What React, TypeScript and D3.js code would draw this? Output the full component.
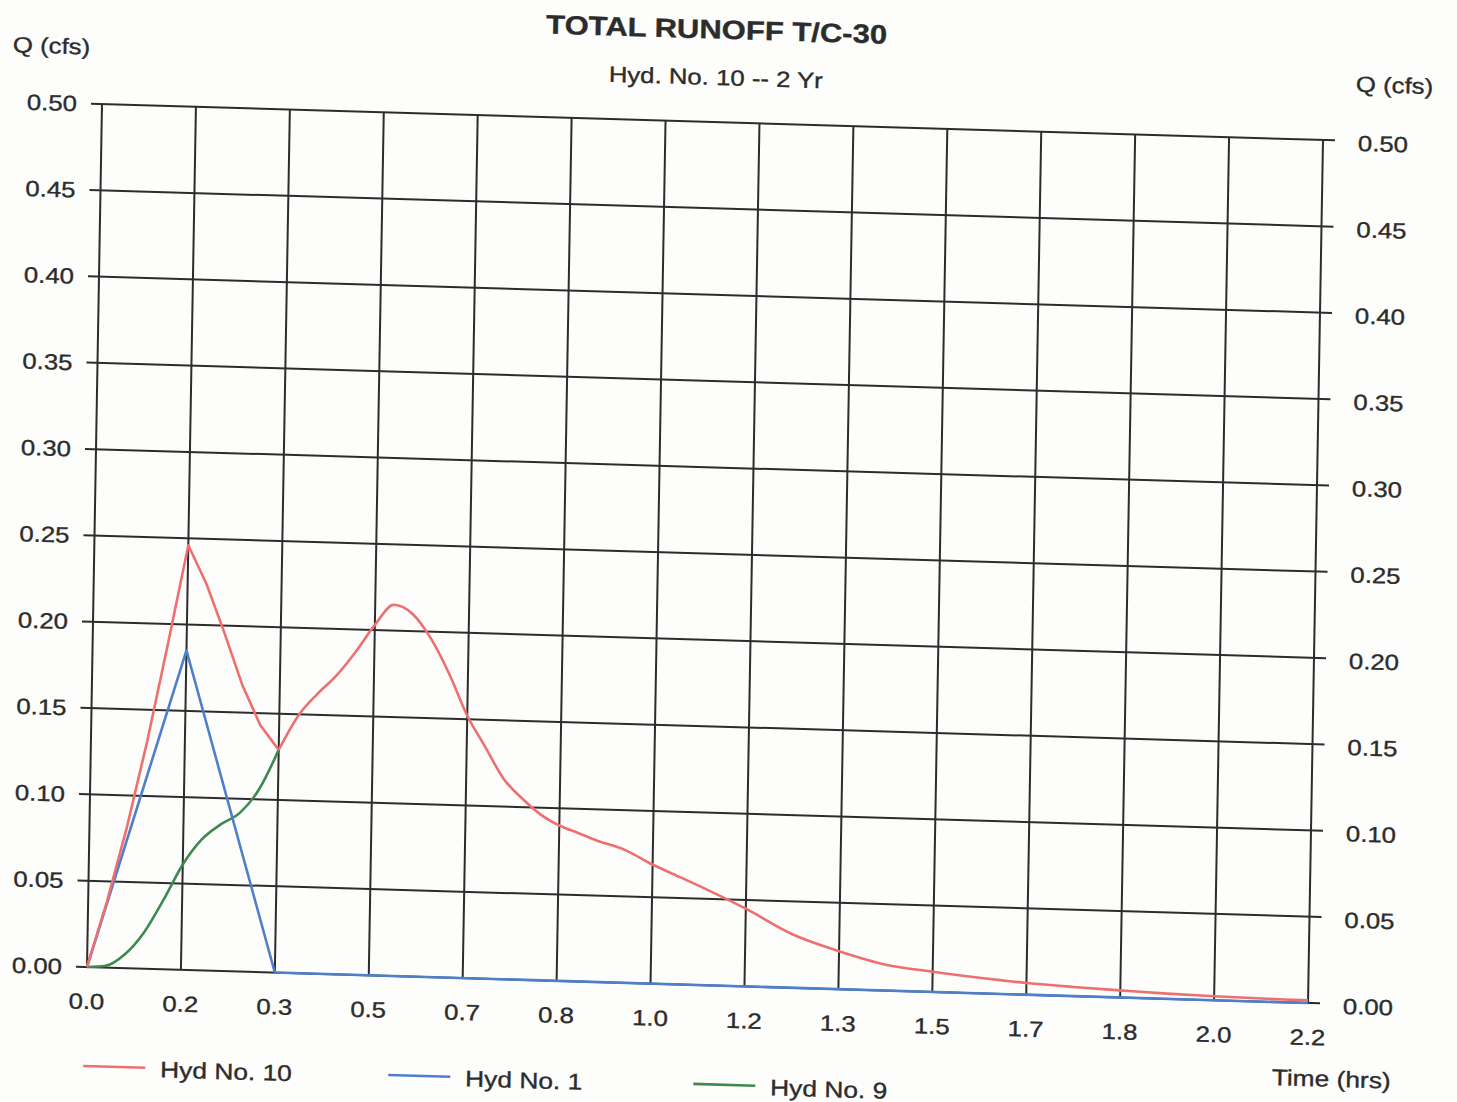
// @ts-nocheck
import React, { useEffect, useRef } from "react";
import * as d3 from "d3";

// Hyd No. 10 (total runoff)
const hyd10Time = [
  0, 0.0333, 0.0667, 0.1, 0.1333, 0.1667, 0.2, 0.2333, 0.2667, 0.3, 0.3333,
  0.3667, 0.4, 0.4333, 0.4667, 0.5, 0.5333, 0.5667, 0.6, 0.6333, 0.6667, 0.7,
  0.7333, 0.7667, 0.8, 0.8333, 0.8667, 0.9, 0.95, 1.0, 1.05, 1.1, 1.1667, 1.25,
  1.3333, 1.4167, 1.5, 1.5833, 1.6667, 1.75, 1.8333, 1.9167, 2.0, 2.0833, 2.1667,
];
const hyd10Flow = [
  0, 0.038, 0.082, 0.132, 0.188, 0.246, 0.224, 0.196, 0.166, 0.143, 0.129,
  0.149, 0.162, 0.173, 0.187, 0.203, 0.215, 0.21, 0.196, 0.176, 0.152, 0.134,
  0.116, 0.105, 0.096, 0.09, 0.086, 0.082, 0.077, 0.069, 0.062, 0.055, 0.045,
  0.031, 0.022, 0.015, 0.0117, 0.009, 0.0068, 0.0053, 0.0041, 0.003, 0.0023,
  0.0018, 0.0015,
];

// Hyd No. 1
const hyd1Time = [0, 0.1667, 0.3333, 2.1667];
const hyd1Flow = [0, 0.185, 0, 0];

// Hyd No. 9 (hidden under Hyd No. 10 after 0.33 hr)
const hyd9Time = [0, 0.0333, 0.0667, 0.1, 0.1333, 0.1667, 0.2, 0.2333, 0.2667, 0.3, 0.3333];
const hyd9Flow = [0, 0.001, 0.008, 0.021, 0.04, 0.061, 0.076, 0.085, 0.092, 0.106, 0.129];

const xTickValues = [0, 1 / 6, 2 / 6, 3 / 6, 4 / 6, 5 / 6, 1, 7 / 6, 8 / 6, 9 / 6, 10 / 6, 11 / 6, 2, 13 / 6];
const xTickLabels = ["0.0", "0.2", "0.3", "0.5", "0.7", "0.8", "1.0", "1.2", "1.3", "1.5", "1.7", "1.8", "2.0", "2.2"];
const yTickValues = [0, 0.05, 0.1, 0.15, 0.2, 0.25, 0.3, 0.35, 0.4, 0.45, 0.5];
const yTickLabels = ["0.00", "0.05", "0.10", "0.15", "0.20", "0.25", "0.30", "0.35", "0.40", "0.45", "0.50"];

const legendNames = ["Hyd No. 10", "Hyd No. 1", "Hyd No. 9"];
const legendColors = ["#ee6f70", "#4d7fcb", "#3e8a4e"];

function App() {
  const ref = useRef(null);

  useEffect(() => {
    const W = 1221,
      H = 863;
    const stretch = 1.17; // scanned text is wider than it is tall
    const font = "'Liberation Sans', Arial, sans-serif";
    const ink = "#2c2c2c";

    const svg = d3.select(ref.current);
    svg.selectAll("*").remove();

    svg.append("rect").attr("width", 1457).attr("height", 1102).attr("fill", "#fdfdfb");

    // the scan is slightly sheared, so the whole chart goes through a matrix
    const g = svg
      .append("g")
      .attr("transform", "matrix(1,0.02948,-0.01738,1,102,104)");

    const x = d3.scaleLinear().domain([0, 13 / 6]).range([0, W]);
    const y = d3.scaleLinear().domain([0, 0.5]).range([H, 0]);

    const text = (px, py, str, size, anchor, weight) =>
      g
        .append("text")
        .attr("transform", `translate(${px},${py}) scale(${stretch},1)`)
        .attr("text-anchor", anchor)
        .attr("dy", "0.36em")
        .style("font-family", font)
        .style("font-size", size + "px")
        .style("font-weight", weight || 400)
        .attr("fill", ink)
        .attr("stroke", ink)
        .attr("stroke-width", 0.35)
        .text(str);

    // grid
    g.selectAll(".hgrid")
      .data(yTickValues)
      .enter()
      .append("line")
      .attr("x1", -11)
      .attr("x2", W + 12)
      .attr("y1", (d) => y(d))
      .attr("y2", (d) => y(d))
      .attr("stroke", ink)
      .attr("stroke-width", 2);

    g.selectAll(".vgrid")
      .data(xTickValues)
      .enter()
      .append("line")
      .attr("x1", (d) => x(d))
      .attr("x2", (d) => x(d))
      .attr("y1", 0)
      .attr("y2", H)
      .attr("stroke", ink)
      .attr("stroke-width", 2);

    // tick labels
    yTickValues.forEach((v, i) => {
      text(-25, y(v), yTickLabels[i], 22, "end");
      text(W + 35, y(v) + 2, yTickLabels[i], 22, "start");
    });
    xTickValues.forEach((v, i) => {
      text(x(v), H + 34, xTickLabels[i], 22, "middle");
    });

    // titles
    text(613, -93, "TOTAL RUNOFF T/C-30", 26.5, "middle", 700);
    text(613, -45, "Hyd. No. 10 -- 2 Yr", 22, "middle");
    text(-90, -57, "Q (cfs)", 22, "start");
    text(W + 32, -57, "Q (cfs)", 22, "start");
    text(1305, 938, "Time (hrs)", 22.5, "end");

    // series: sharp corners stay linear, the smooth stretches get a monotone curve
    const straight = d3
      .line()
      .x((d) => x(d[0]))
      .y((d) => y(d[1]));
    const smooth = d3
      .line()
      .curve(d3.curveMonotoneX)
      .x((d) => x(d[0]))
      .y((d) => y(d[1]));

    const pts = (t, q) => t.map((v, i) => [v, q[i]]);
    const red = pts(hyd10Time, hyd10Flow);
    const trough = hyd10Time.indexOf(0.3333);

    const paths = [
      { d: smooth(pts(hyd9Time, hyd9Flow)), c: legendColors[2] },
      { d: straight(pts(hyd1Time, hyd1Flow)), c: legendColors[1] },
      { d: straight(red.slice(0, trough + 1)), c: legendColors[0] },
      { d: smooth(red.slice(trough)), c: legendColors[0] },
    ];
    paths.forEach((p) => {
      g.append("path")
        .attr("d", p.d)
        .attr("fill", "none")
        .attr("stroke", p.c)
        .attr("stroke-width", 2.6)
        .attr("stroke-linejoin", "round");
    });

    // legend
    legendNames.forEach((name, i) => {
      const lx = -2 + i * 305;
      g.append("line")
        .attr("x1", lx)
        .attr("x2", lx + 62)
        .attr("y1", 962)
        .attr("y2", 962)
        .attr("stroke", legendColors[i])
        .attr("stroke-width", 2.6);
      text(lx + 77, 963, name, 22.5, "start");
    });
  }, []);

  return (
    <svg
      ref={ref}
      width={1457}
      height={1102}
      style={{ position: "absolute", left: 0, top: 0 }}
    />
  );
}

export default App;
